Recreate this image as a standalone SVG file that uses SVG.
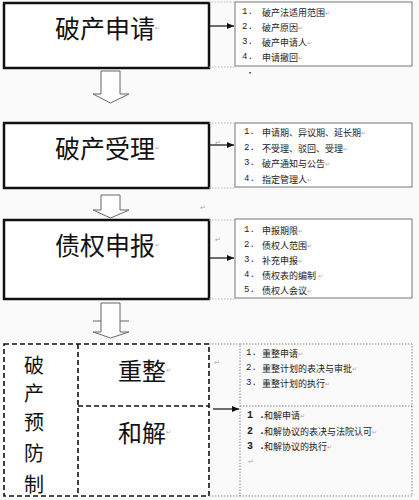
<svg xmlns="http://www.w3.org/2000/svg" width="419" height="500" viewBox="0 0 419 500">
<defs>
<marker id="ah" markerWidth="8" markerHeight="6" refX="7" refY="3" orient="auto" markerUnits="userSpaceOnUse">
<path d="M0,0 L7,3 L0,6 Z" fill="#111"/>
</marker>
</defs>
<style>
.main{fill:#fff;stroke:#111;stroke-width:2.5}
.list{fill:#fff;stroke:#777;stroke-width:1}
.dash{fill:#fff;stroke:#111;stroke-width:1.6;stroke-dasharray:5,3}
.dot{fill:none;stroke:#888;stroke-width:1;stroke-dasharray:1.5,1.5}
.faint{stroke:#bbb;stroke-width:1;stroke-dasharray:1.5,1.5}
.title{font-family:"Noto Sans CJK SC",sans-serif;font-size:25px;fill:#111;dominant-baseline:central}
.vert{font-family:"Noto Sans CJK SC",sans-serif;font-size:20px;fill:#111;dominant-baseline:central;text-anchor:middle}
.item{font-family:"Noto Sans CJK SC",sans-serif;font-size:9px;fill:#222;dominant-baseline:central}
.num{font-family:"Liberation Mono",monospace;font-size:9px;fill:#222;dominant-baseline:central}
.pm{font-size:6px;fill:#aaa}
.pmt{font-family:"Noto Sans CJK SC",sans-serif;font-size:7px;fill:#aaa;dominant-baseline:central}
.flow{stroke:#111;stroke-width:1.2;fill:none}
.block{fill:#fff;stroke:#666;stroke-width:1}
</style>
<rect width="419" height="500" fill="#fafafa"/>

<g id="node-shenqing">
<rect class="main" x="4" y="3" width="205" height="65"/>
<text class="title" x="55" y="27">破产申请<tspan class="pm">↵</tspan></text>
</g>
<g id="list-shenqing">
<rect class="list" x="235" y="2" width="177" height="64"/>
<text class="num" x="242" y="12">1.</text><text class="item" x="262" y="12">破产法适用范围<tspan class="pm">↵</tspan></text>
<text class="num" x="242" y="27">2.</text><text class="item" x="262" y="27">破产原因<tspan class="pm">↵</tspan></text>
<text class="num" x="242" y="42">3.</text><text class="item" x="262" y="42">破产申请人<tspan class="pm">↵</tspan></text>
<text class="num" x="242" y="57">4.</text><text class="item" x="262" y="57">申请撤回<tspan class="pm">↵</tspan></text>
<text class="item" x="246" y="72" style="font-size:8px">·</text>
</g>

<g id="node-shouli">
<rect class="main" x="4" y="123" width="205" height="65"/>
<text class="title" x="55" y="147">破产受理<tspan class="pm">↵</tspan></text>
</g>
<g id="list-shouli">
<rect class="list" x="235" y="123" width="177" height="64"/>
<text class="num" x="244" y="132">1.</text><text class="item" x="262" y="132">申请期、异议期、延长期<tspan class="pm">↵</tspan></text>
<text class="num" x="244" y="148">2.</text><text class="item" x="262" y="148">不受理、驳回、受理<tspan class="pm">↵</tspan></text>
<text class="num" x="244" y="163">3.</text><text class="item" x="262" y="163">破产通知与公告<tspan class="pm">↵</tspan></text>
<text class="num" x="244" y="179">4.</text><text class="item" x="262" y="179">指定管理人<tspan class="pm">↵</tspan></text>
</g>

<g id="node-shenbao">
<rect class="main" x="4" y="220" width="205" height="79"/>
<text class="title" x="55" y="244">债权申报<tspan class="pm">↵</tspan></text>
</g>
<g id="list-shenbao">
<rect class="list" x="235" y="219" width="177" height="79"/>
<text class="num" x="244" y="230">1.</text><text class="item" x="262" y="230">申报期限<tspan class="pm">↵</tspan></text>
<text class="num" x="244" y="245">2.</text><text class="item" x="262" y="245">债权人范围<tspan class="pm">↵</tspan></text>
<text class="num" x="244" y="260">3.</text><text class="item" x="262" y="260">补充申报<tspan class="pm">↵</tspan></text>
<text class="num" x="244" y="275">4.</text><text class="item" x="262" y="275">债权表的编制 <tspan class="pm">↵</tspan></text>
<text class="num" x="244" y="290">5.</text><text class="item" x="262" y="290">债权人会议<tspan class="pm">↵</tspan></text>
</g>

<g id="node-yufang">
<rect class="dash" x="4" y="344" width="205" height="152"/>
<line class="dash" x1="78" y1="344" x2="78" y2="496"/>
<line class="dash" x1="78" y1="406" x2="209" y2="406"/>
<text class="vert" x="34" y="364">破</text>
<text class="vert" x="34" y="392">产</text>
<text class="vert" x="34" y="421">预</text>
<text class="vert" x="34" y="452">防</text>
<text class="vert" x="34" y="483">制</text>
</g>
<g id="node-chongzheng">
<text class="title" x="118" y="369" style="font-size:24px">重整<tspan class="pm">↵</tspan></text>
</g>
<g id="node-hejie">
<text class="title" x="118" y="431" style="font-size:24px">和解<tspan class="pm">↵</tspan></text>
</g>
<g id="list-yufang">
<rect class="dot" x="240" y="344" width="172" height="152"/>
<line class="dot" x1="240" y1="406" x2="412" y2="406"/>
<text class="num" x="246" y="353">1.</text><text class="item" x="262" y="353">重整申请<tspan class="pm">↵</tspan></text>
<text class="num" x="246" y="368">2.</text><text class="item" x="262" y="368">重整计划的表决与审批<tspan class="pm">↵</tspan></text>
<text class="num" x="246" y="383">3.</text><text class="item" x="262" y="383">重整计划的执行<tspan class="pm">↵</tspan></text>
<text class="num" x="247" y="415" style="font-weight:bold;font-size:10px">1 .</text><text class="item" x="264" y="415">和解申请<tspan class="pm">↵</tspan></text>
<text class="num" x="247" y="431" style="font-weight:bold;font-size:10px">2 .</text><text class="item" x="264" y="431">和解协议的表决与法院认可<tspan class="pm">↵</tspan></text>
<text class="num" x="247" y="446" style="font-weight:bold;font-size:10px">3 .</text><text class="item" x="264" y="446">和解协议的执行<tspan class="pm">↵</tspan></text>
<text class="pmt" x="248" y="461">↵</text>
</g>

<g id="marks">
<text class="pmt" x="215" y="142">↵</text>
<text class="pmt" x="200" y="207">↵</text>
<text class="pmt" x="215" y="239">↵</text>
<text class="pmt" x="214" y="362">↵</text>
</g>

<g id="connectors">
<line class="faint" x1="209" y1="2" x2="235" y2="2"/>
<line class="faint" x1="209" y1="67" x2="235" y2="67"/>
<line class="faint" x1="209" y1="123" x2="235" y2="123"/>
<line class="faint" x1="209" y1="188" x2="235" y2="188"/>
<line class="faint" x1="209" y1="220" x2="235" y2="220"/>
<line class="faint" x1="209" y1="299" x2="235" y2="299"/>
<line class="dot" x1="209" y1="344" x2="240" y2="344"/>
<line class="dot" x1="209" y1="496" x2="240" y2="496"/>
<line class="flow" x1="210" y1="26" x2="234" y2="26" marker-end="url(#ah)"/>
<line class="flow" x1="210" y1="145" x2="234" y2="145" marker-end="url(#ah)"/>
<line class="flow" x1="210" y1="258" x2="234" y2="258" marker-end="url(#ah)"/>
<line class="flow" x1="213" y1="409" x2="239" y2="409" marker-end="url(#ah)"/>
<path class="block" d="M101,71 H120 V94 H129 L110.5,103 L93,94 H101 Z"/>
<path class="block" d="M101,195 H120 V210 H129 L110.5,218 L93,210 H101 Z"/>
<path class="block" d="M101,303 H120 V332 H129 L110.5,338 L93,332 H101 Z"/>
<line class="block" x1="93" y1="321" x2="101" y2="321"/>
<line class="block" x1="120" y1="321" x2="129" y2="321"/>
</g>
</svg>
